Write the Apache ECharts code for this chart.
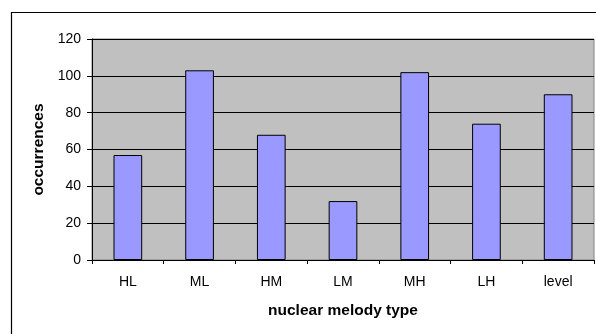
<!DOCTYPE html>
<html>
<head>
<meta charset="utf-8">
<script src="https://cdn.jsdelivr.net/npm/echarts@6/dist/echarts.min.js"></script>
<style>
  html, body { margin: 0; padding: 0; background: #fff; }
  #chart { width: 596px; height: 334px; }
</style>
</head>
<body>
<div id="chart"></div>
<script>
// Nuclear melody types and how often each occurs
const categories = ['HL', 'ML', 'HM', 'LM', 'MH', 'LH', 'level'];
const occurrences = [57, 103, 68, 32, 102, 74, 90];
const yTicks = [0, 20, 40, 60, 80, 100, 120];

const FONT = '"Liberation Sans", Arial, sans-serif';
const chart = echarts.init(document.getElementById('chart'), null, { renderer: 'canvas' });

chart.setOption({
  animation: false,
  graphic: [
    // outer frame around the chart area (open past the right and bottom edges)
    {
      type: 'rect', silent: true,
      shape: { x: 11.5, y: 12.5, width: 600, height: 340 },
      style: { fill: 'none', stroke: '#000', lineWidth: 1.2 }
    }
  ],
  grid: {
    left: 92, top: 39, right: 2, bottom: 74,
    show: true, backgroundColor: '#c0c0c0', borderColor: '#808080', borderWidth: 1
  },
  xAxis: {
    type: 'category',
    data: categories,
    name: 'nuclear melody type',
    nameLocation: 'middle',
    nameGap: 43,
    nameTextStyle: { fontFamily: FONT, fontSize: 15.5, fontWeight: 'bold', color: '#000' },
    axisLine: { lineStyle: { color: '#000', width: 1 } },
    axisTick: { show: true, length: 4, lineStyle: { color: '#000' } },
    axisLabel: { fontFamily: FONT, fontSize: 14, color: '#000', margin: 15 }
  },
  yAxis: {
    type: 'value',
    min: yTicks[0],
    max: yTicks[yTicks.length - 1],
    interval: 20,
    name: 'occurrences',
    nameLocation: 'middle',
    nameGap: 45,
    nameRotate: 90,
    nameTextStyle: { fontFamily: FONT, fontSize: 15.5, fontWeight: 'bold', color: '#000' },
    axisLine: { show: true, lineStyle: { color: '#000', width: 1 } },
    axisTick: { show: true, length: 5, lineStyle: { color: '#000' } },
    axisLabel: { fontFamily: FONT, fontSize: 14, color: '#000', margin: 11 },
    splitLine: { show: true, lineStyle: { color: '#000', width: 1 } }
  },
  series: [{
    type: 'bar',
    data: occurrences,
    barWidth: '40%',
    itemStyle: { color: '#9999ff', borderColor: '#000', borderWidth: 1 }
  }]
});
</script>
</body>
</html>
